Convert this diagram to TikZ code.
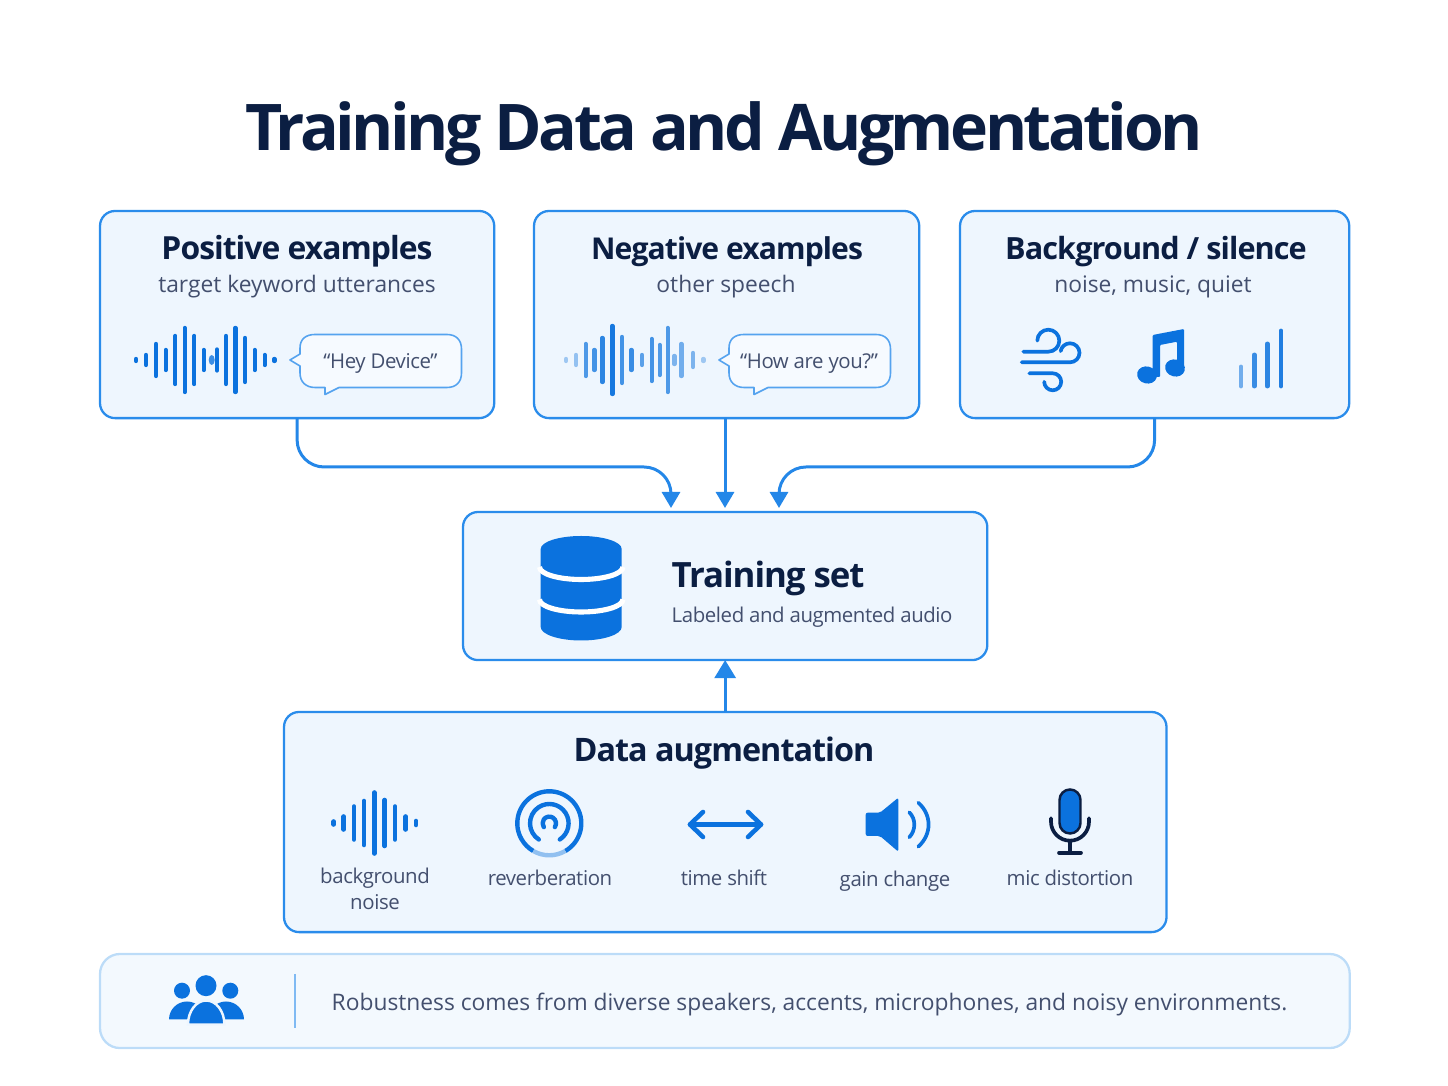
\documentclass[tikz,border=0pt]{standalone}
\usepackage{fontspec}
\setmainfont{Open Sans}
\newfontfamily\labelfont{Open Sans}[LetterSpace=-2]
\newfontfamily\headfont{Open Sans}[LetterSpace=-3]
\newfontfamily\titlefont{Open Sans}[LetterSpace=-5.5]
\usetikzlibrary{arrows.meta}
\definecolor{navy}{HTML}{0B1E42}
\definecolor{slate}{HTML}{434F6E}
\definecolor{edge}{HTML}{2A8CEB}
\definecolor{paleedge}{HTML}{BCDCF8}
\definecolor{cardfill}{HTML}{EEF6FE}
\definecolor{ink}{HTML}{0B72DE}
\tikzset{
    card/.style={draw=edge, fill=cardfill, line width=0.65pt, rounded corners=0.15cm, anchor=north west, inner sep=0, outer sep=0},
    flowline/.style={draw=edge!80!ink, line width=0.85pt, -{Triangle[length=0.16cm,width=0.18cm]}},
    headtext/.style={anchor=base, inner sep=0, text=navy, font=\headfont\fontsize{8.9}{10}\selectfont\bfseries},
    subtext/.style={anchor=base, inner sep=0, text=slate, font=\fontsize{6.48}{7.4}\selectfont},
    smalltext/.style={anchor=base, inner sep=0, text=slate, font=\labelfont\fontsize{5.8}{7.4}\selectfont},
    wavebar/.style={draw=ink, line width=1.25pt, line cap=round},
    iconline/.style={draw=ink, line width=1.05pt, line cap=round, line join=round},
    darkline/.style={draw=navy, line width=1.05pt, line cap=round, line join=round}
}
\begin{document}
\begin{tikzpicture}[x=0.01cm, y=-0.01cm]
    \useasboundingbox (0,0) rectangle (1448,1086);

    \node[anchor=base, text=navy, font=\titlefont\fontsize{18.3}{20}\selectfont\bfseries] (title) at (724,151) {Training Data and Augmentation};

    \node[card, minimum width=3.94cm, minimum height=2.07cm] (poscard) at (100,211) {};
    \node[card, minimum width=3.85cm, minimum height=2.07cm] (negcard) at (534,211) {};
    \node[card, minimum width=3.89cm, minimum height=2.07cm] (bgcard) at (960,211) {};
    \node[card, minimum width=5.24cm, minimum height=1.48cm] (trainset) at (463,512) {};
    \node[card, minimum width=8.82cm, minimum height=2.20cm] (augcard) at (284,712) {};
    \node[card, draw=paleedge, fill=cardfill!70!white, rounded corners=0.2cm, minimum width=12.49cm, minimum height=0.94cm] (notecard) at (100,954) {};

    \node[headtext, font=\headfont\fontsize{9.05}{10}\selectfont\bfseries] (poshead) at (297,260) {Positive examples};
    \node[subtext] (possub) at (297,293) {target keyword utterances};
    \node[headtext, font=\headfont\fontsize{8.55}{10}\selectfont\bfseries] (neghead) at (727,260) {Negative examples};
    \node[subtext] (negsub) at (726,293) {other speech};
    \node[headtext, font=\headfont\fontsize{8.7}{10}\selectfont\bfseries] (bghead) at (1156,260) {Background / silence};
    \node[subtext] (bgsub) at (1153,293) {noise, music, quiet};
    \node[headtext, anchor=base west, font=\headfont\fontsize{9.9}{11}\selectfont\bfseries] (trainhead) at (671,588) {Training set};
    \node[smalltext, anchor=base west] (trainsub) at (671,623) {Labeled and augmented audio};
    \node[headtext, font=\headfont\fontsize{9.2}{10}\selectfont\bfseries] (aughead) at (724,762) {Data augmentation};

    \node[smalltext, align=center] (noiselabel) at (375,910) {background\\noise};
    \node[smalltext] (reverblabel) at (550,886) {reverberation};
    \node[smalltext] (shiftlabel) at (724,886) {time shift};
    \node[smalltext] (gainlabel) at (895,887) {gain change};
    \node[smalltext] (miclabel) at (1070,886) {mic distortion};
    \node[subtext, anchor=base west] (notetext) at (331,1011) {Robustness comes from diverse speakers, accents, microphones, and noisy environments.};

    % connectors
    \coordinate (elbowleft) at (671,467);
    \coordinate (elbowright) at (779,467);
    \coordinate (inleft) at (671,508);
    \coordinate (inmid) at (725,508);
    \coordinate (inright) at (779,508);
    \draw[flowline, rounded corners=0.27cm] (poscard.south) |- (elbowleft) -- (inleft);
    \draw[flowline, rounded corners=0.27cm] (bgcard.south) |- (elbowright) -- (inright);
    \draw[flowline] (inmid |- negcard.south) -- (inmid);
    \draw[flowline, -{Triangle[length=0.18cm,width=0.21cm]}] (trainset.south |- augcard.north) -- (trainset.south);

    % waves
    \foreach \x/\h in {136/1,146/5,156/16,165.7/10,175.3/24,184.7/32,194.3/24,203.7/10,217/10.5,226/24,235.3/32,245/22,254.7/10,264.7/5,274.3/1}
        \draw[wavebar] (\x,{360-\h}) -- (\x,{360+\h});
    \fill[ink!80] (211.7,360) ellipse (3 and 5);

    \foreach \x/\h/\o in {566/1/.35,576/5/.4,585.7/16/.7,594.3/10/.75,602.3/22/.85,612.3/34/.95,622/23/.75,631.3/10/.8,642/5/.65,651.7/21/.75,659.7/15/.7,667.7/32/.7,674.3/4/.5,681.3/16/.55,693/7/.5,703.3/1/.35}
        \draw[wavebar, opacity=\o] (\x,{360-\h}) -- (\x,{360+\h});

    \foreach \x/\h in {333.7/1.5,343.7/6.5,354/16.5,364/22,374.3/30.5,384.7/23,395/16.5,405.7/6.5,416/2}
        \draw[wavebar, line width=1.3pt] (\x,{823-\h}) -- (\x,{823+\h});

    % bubbles
    \foreach \s in {0,429} {
        \begin{scope}[shift={(\s,0)}]
            \draw[draw=edge!80, fill=cardfill!50!white, line width=0.45pt, line join=round] (290,360) -- (300,354) -- (300,348)
                .. controls (300,339) and (306,334.5) .. (315,334.5) -- (447,334.5)
                .. controls (456,334.5) and (461.5,340) .. (461.5,349) -- (461.5,373)
                .. controls (461.5,382) and (456,387.5) .. (447,387.5) -- (339,387.5) -- (325,394.5) -- (325,387.5) -- (315,387.5)
                .. controls (306,387.5) and (300,382) .. (300,373) -- (300,366) -- cycle;
        \end{scope}
    }
    \node[smalltext] (heytext) at (380.5,369) {“Hey Device”};
    \node[smalltext] (howtext) at (809,369) {“How are you?”};

    % wind, note, level bars
    \draw[iconline] (1023.3,351.7) -- (1048.3,351.7) arc[start angle=90, end angle=-180, radius=11] ;
    \draw[iconline] (1021.7,362.3) -- (1070,362.3) arc[start angle=90, end angle=-170, radius=9.5];
    \draw[iconline] (1029.3,373.3) -- (1052.7,373.3) arc[start angle=-90, end angle=180, radius=8.5];

    \fill[ink, rounded corners=0.01cm] (1152.7,335) -- (1184,329) -- (1184,368) -- (1177,368) -- (1177,341.7) -- (1160,345) -- (1160,377) -- (1152.7,377) -- cycle;
    \fill[ink, rotate around={-15:(1147,375)}] (1147,375) ellipse (10 and 8.5);
    \fill[ink, rotate around={-15:(1175,368)}] (1175,368) ellipse (10 and 8.5);

    \foreach \x/\t/\o in {1241/367/.55,1254.3/355/.8,1267.3/344/.85,1281/331/.9}
        \draw[wavebar, line width=1.4pt, opacity=\o] (\x,\t) -- (\x,386);

    % database
    \fill[ink] (540.7,549) arc[start angle=180, end angle=360, x radius=40.5, y radius=13] -- (621.7,627) arc[start angle=0, end angle=180, x radius=40.5, y radius=13.5] -- cycle;
    \draw[white, line width=1.45pt] (539.5,567) arc[start angle=180, end angle=0, x radius=41.7, y radius=12.5];
    \draw[white, line width=1.45pt] (539.5,599.5) arc[start angle=180, end angle=0, x radius=41.7, y radius=12.5];

    % reverberation
    \draw[iconline, line cap=butt, line width=1.25pt] (549.3,823.3) ++(60:32) arc[start angle=60, end angle=-240, radius=32];
    \draw[draw=ink!45, line width=1.25pt] (549.3,823.3) ++(60:32) arc[start angle=60, end angle=120, radius=32];
    \draw[iconline, line width=1.25pt] (549.3,823.3) ++(57:19.3) arc[start angle=57, end angle=-237, radius=19.3];
    \draw[iconline, line width=1.25pt] (549.3,823.3) ++(35:6.7) arc[start angle=35, end angle=-215, radius=6.7];

    % time shift
    \draw[iconline, line width=1.3pt] (690,824.5) -- (761,824.5);
    \draw[iconline, line width=1.3pt] (703,812) -- (690,824.5) -- (703,837);
    \draw[iconline, line width=1.3pt] (748,812) -- (761,824.5) -- (748,837);

    % speaker
    \fill[ink, rounded corners=0.02cm] (865.7,812.7) -- (880,812.7) -- (898.3,797.7) -- (898.3,851.7) -- (880,836) -- (865.7,836) -- cycle;
    \draw[iconline] (909.3,812.3) .. controls (916,819) and (916,830) .. (909.3,837.3);
    \draw[iconline] (918.3,802.7) .. controls (932,815) and (932,834) .. (918.3,846.7);

    % mic
    \draw[draw=navy, fill=ink, line width=0.7pt] (1059.5,800) arc[start angle=180, end angle=360, radius=10.5] -- (1080.5,823) arc[start angle=0, end angle=180, radius=10.5] -- cycle;
    \draw[darkline] (1051,818.3) -- (1051,821.7) arc[start angle=180, end angle=0, radius=19] -- (1089,818.3);
    \draw[darkline] (1070,840.7) -- (1070,852.7);
    \draw[darkline] (1059,852.7) -- (1081,852.7);

    % people
    \fill[ink] (187,1019.5) -- (169,1019.5) arc[start angle=180, end angle=360, x radius=18, y radius=18] -- cycle;
    \fill[ink] (226,1019.5) -- (208,1019.5) arc[start angle=180, end angle=360, x radius=18, y radius=18] -- cycle;
    \draw[draw=cardfill, fill=ink, line width=0.7pt] (188,1024.5) arc[start angle=180, end angle=360, x radius=18.2, y radius=24] -- cycle;
    \fill[ink] (206,985.7) circle (10.5);
    \fill[ink] (182,990.7) circle (8);
    \fill[ink] (230.3,990.7) circle (8);
    \draw[draw=edge!60, line width=0.45pt] (295,974) -- (295,1028);
\end{tikzpicture}
\end{document}
